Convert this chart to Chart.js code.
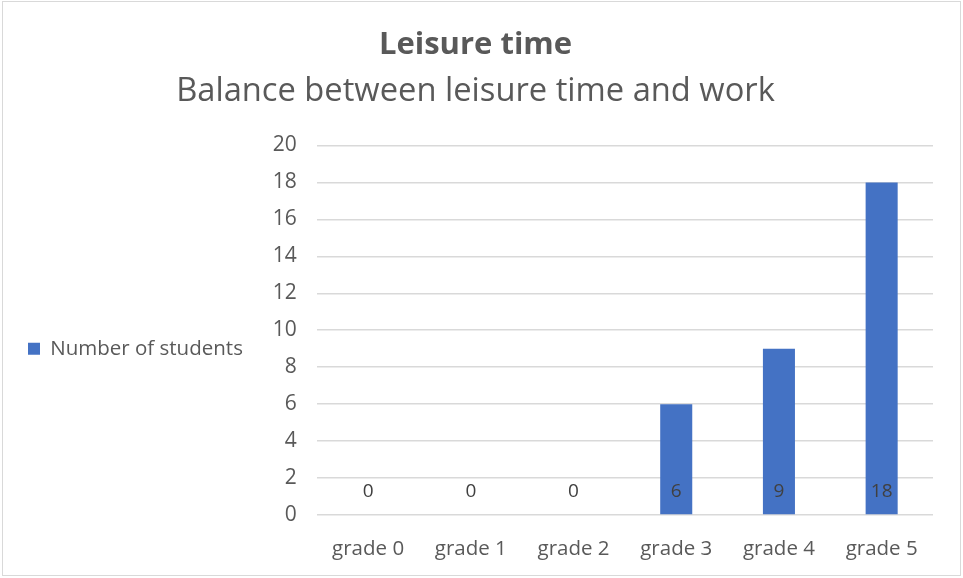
<!DOCTYPE html>
<html>
<head>
<meta charset="utf-8">
<script src="https://cdn.jsdelivr.net/npm/chart.js@4.4.0/dist/chart.umd.min.js"></script>
<style>
html,body{margin:0;padding:0;background:#fff;}
#wrap{position:relative;width:963px;height:578px;}
#frame{position:absolute;left:2px;top:1px;width:957px;height:573px;border:1.5px solid #d9d9d9;pointer-events:none;}
</style>
</head>
<body>
<div id="wrap">
<canvas id="c" width="963" height="578"></canvas>
<div id="frame"></div>
</div>
<script>
const categories = ["grade 0", "grade 1", "grade 2", "grade 3", "grade 4", "grade 5"];
const studentCounts = [0, 0, 0, 6, 9, 18];
const seriesName = "Number of students";
const chartTitle = "Leisure time";
const chartSubtitle = "Balance between leisure time and work";
const yTicks = [0, 2, 4, 6, 8, 10, 12, 14, 16, 18, 20];

const FONT = "'Open Sans', 'Noto Sans', sans-serif";

const baseLabels = {
  id: 'baseLabels',
  afterDatasetsDraw(chart) {
    const ctx = chart.ctx;
    const meta = chart.getDatasetMeta(0);
    const yScale = chart.scales.y;
    const base = yScale.getPixelForValue(0);
    ctx.save();
    ctx.font = "19px " + FONT;
    ctx.fillStyle = "#404040";
    ctx.textAlign = "center";
    ctx.textBaseline = "middle";
    meta.data.forEach((bar, i) => {
      ctx.fillText(String(chart.data.datasets[0].data[i]), bar.x, base - 23);
    });
    ctx.restore();
  }
};

new Chart(document.getElementById('c'), {
  type: 'bar',
  data: {
    labels: categories,
    datasets: [{
      label: seriesName,
      data: studentCounts,
      backgroundColor: '#4472C4',
      borderWidth: 0,
      categoryPercentage: 1.0,
      barPercentage: 0.312
    }]
  },
  options: {
    responsive: false,
    animation: false,
    devicePixelRatio: 1,
    layout: { padding: { left: 18, right: 30, top: 27, bottom: 0 } },
    plugins: {
      title: {
        display: true,
        text: chartTitle,
        color: '#595959',
        font: { family: FONT, size: 31, weight: 'bold' },
        padding: { top: 0, bottom: 8 }
      },
      subtitle: {
        display: true,
        text: chartSubtitle,
        color: '#595959',
        font: { family: FONT, size: 32.7, weight: 'normal' },
        padding: { top: 0, bottom: 34 }
      },
      legend: {
        position: 'left',
        title: { display: true, text: ' ', padding: { top: 0, bottom: 78 }, font: { size: 12 } },
        labels: {
          color: '#595959',
          font: { family: FONT, size: 20.5 },
          boxWidth: 12,
          boxHeight: 12,
          padding: 10
        }
      },
      tooltip: { enabled: false }
    },
    scales: {
      x: {
        afterFit(scale) { scale.height = 63; },
        grid: { display: false, drawTicks: false },
        border: { display: false },
        ticks: { color: '#595959', font: { family: FONT, size: 20.5 }, padding: 22 }
      },
      y: {
        min: 0,
        max: 20,
        afterBuildTicks(scale) { scale.ticks = yTicks.map(v => ({ value: v })); },
        afterFit(scale) { scale.width = 70; },
        grid: { color: '#d9d9d9', lineWidth: 1.5, drawTicks: false },
        border: { display: false },
        ticks: { color: '#595959', font: { family: FONT, size: 21 }, padding: 20 }
      }
    }
  },
  plugins: [baseLabels]
});
</script>
</body>
</html>
